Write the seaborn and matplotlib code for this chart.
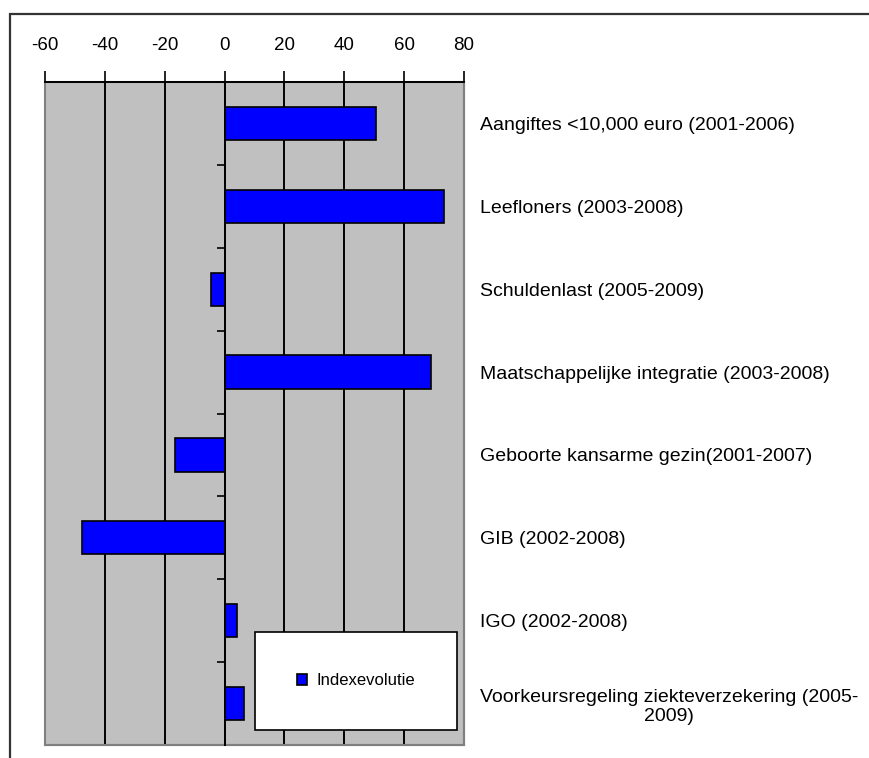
import numpy as np
import pandas as pd
import matplotlib
matplotlib.use("Agg")
import matplotlib.pyplot as plt
import seaborn as sns
from matplotlib.patches import Rectangle

# Données
categories = [
    "Aangiftes <10,000 euro (2001-2006)",
    "Leefloners (2003-2008)",
    "Schuldenlast (2005-2009)",
    "Maatschappelijke integratie (2003-2008)",
    "Geboorte kansarme gezin(2001-2007)",
    "GIB (2002-2008)",
    "IGO (2002-2008)",
    "Voorkeursregeling ziekteverzekering (2005-\n2009)",
]
valeurs = [50.5, 73.3, -4.6, 69.0, -16.4, -47.6, 4.0, 6.5]
serie = "Indexevolutie"
x_ticks = [-60, -40, -20, 0, 20, 40, 60, 80]

df = pd.DataFrame({"categorie": categories, "valeur": valeurs})

sns.set_style("white")
plt.rcParams["font.family"] = ["Liberation Sans", "DejaVu Sans"]
plt.rcParams["axes.unicode_minus"] = False
plt.rcParams["text.color"] = "black"
plt.rcParams["xtick.color"] = "black"
plt.rcParams["ytick.color"] = "black"

fig = plt.figure(figsize=(8.7, 7.58), dpi=100)
ax = fig.add_axes([45 / 870, 1 - 745 / 758, 419 / 870, 663 / 758])
ax.set_facecolor("#C0C0C0")

sns.barplot(data=df, x="valeur", y="categorie", orient="h", color="#0000FF",
            saturation=1, edgecolor="black", linewidth=1.2, width=0.4,
            label=serie, ax=ax, zorder=3)

# --- axe des x en haut ---
ax.set_xlim(-60, 80)
ax.set_xticks(x_ticks)
ax.xaxis.tick_top()
ax.tick_params(axis="x", direction="out", length=8, width=1.2, color="black",
               labelcolor="black", labelsize=13.5, pad=12)
ax.set_xlabel("")
ax.set_ylabel("")

# quadrillage vertical noir
ax.grid(axis="x", color="black", linewidth=1.4, zorder=1)
ax.set_axisbelow(True)
grid_lines = ax.get_xgridlines()
grid_lines[0].set_visible(False)
grid_lines[-1].set_visible(False)

# --- axe des y : ligne a 0, libelles a droite ---
ax.spines["left"].set_position(("data", 0))
ax.spines["left"].set_color("black")
ax.spines["left"].set_linewidth(1.4)
ax.spines["left"].set_zorder(4)
ax.spines["top"].set_color("black")
ax.spines["top"].set_linewidth(1.4)
for s in ["right", "bottom"]:
    ax.spines[s].set_color("#808080")
    ax.spines[s].set_linewidth(1.5)
ax.patch.set_edgecolor("#808080")
ax.patch.set_linewidth(1.5)

n = len(categories)
ax.set_yticks(np.arange(-0.5, n, 1), minor=True)
ax.tick_params(axis="y", which="major", left=False, right=False,
               labelleft=False, labelright=True, labelsize=14, pad=8,
               labelcolor="black")
ax.tick_params(axis="y", which="minor", left=True, right=False,
               direction="out", length=6, width=1.2, color="black")
for lab in ax.get_yticklabels():
    lab.set_multialignment("center")

# --- légende ---
leg = ax.legend(loc="lower left", bbox_to_anchor=(0.501, 0.0226), fontsize=12,
                frameon=True, fancybox=False, borderpad=2.5, handlelength=0.6,
                handleheight=0.6, handletextpad=0.6, borderaxespad=0)
leg.get_frame().set_edgecolor("black")
leg.get_frame().set_linewidth(1.2)
leg.get_frame().set_facecolor("white")
leg.get_frame().set_alpha(1)

# cadre extérieur du graphique
fig.patches.append(Rectangle((10 / 870, -0.1), 1.2, 1 - 14 / 758 + 0.1,
                             transform=fig.transFigure, fill=False,
                             edgecolor="#333333", linewidth=1.6))

fig.savefig("out.png", dpi=100)
